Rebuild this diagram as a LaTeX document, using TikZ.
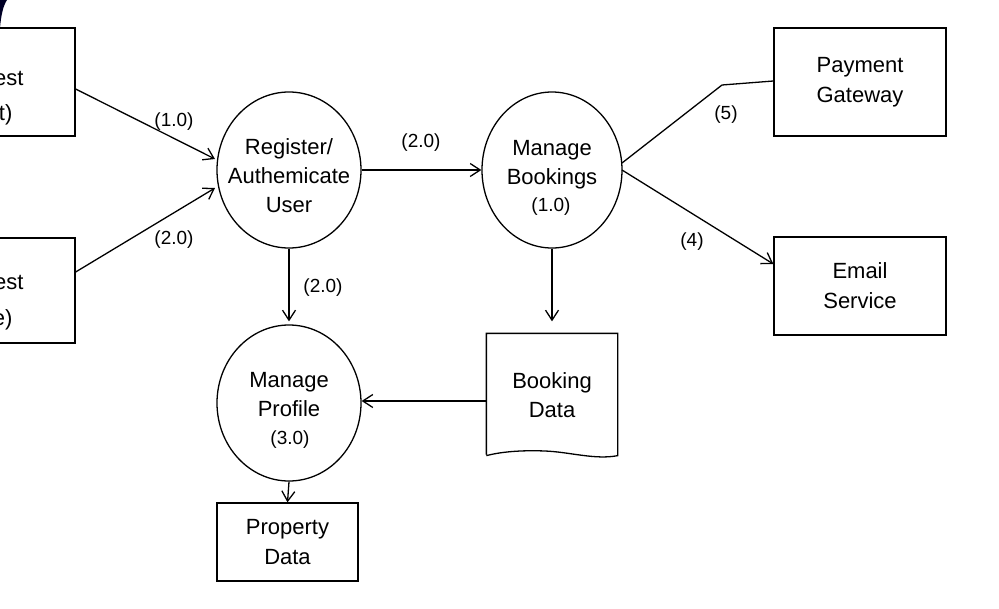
\documentclass[tikz,border=0pt]{standalone}
\usepackage{fontspec}
\setmainfont{Liberation Sans}
\usetikzlibrary{arrows.meta,shapes.geometric}
\begin{document}
\begin{tikzpicture}[x=1pt,y=-1pt,
  line width=1.3pt,
  lbl/.style={font=\fontsize{22}{29}\selectfont, align=center, inner sep=0pt},
  small/.style={font=\fontsize{19}{24}\selectfont, inner sep=0pt},
  proc/.style={draw, ellipse, inner sep=0pt, font=\fontsize{22}{29}\selectfont, align=center},
  ent/.style={draw, rectangle, inner sep=0pt, font=\fontsize{22}{30}\selectfont, align=center},
  flow/.style={-{Straight Barb[length=10pt,width=13pt,line width=1.3pt]}},
]
\useasboundingbox (0,0) rectangle (999,608);
\fill[white] (0,0) rectangle (999,608);
% dark corner artefact
\fill[black!85!blue] (0,0) -- (7,0) .. controls (3,6) and (1,16) .. (0,28) -- cycle;

% external entities (partly off the page)
\node[ent, minimum width=185pt, minimum height=108pt] (g1) at (-17.5,82) {};
\node[lbl, font=\fontsize{22}{35}\selectfont] (g1t) at (-17.5,98) {Request\\(Host)};
\node[ent, minimum width=185pt, minimum height=105pt] (g2) at (-17.5,290.5) {};
\node[lbl, font=\fontsize{22}{36}\selectfont] (g2t) at (-17.5,302) {Request\\(Role)};

% processes
\node[proc, minimum width=144pt, minimum height=156pt] (reg) at (289,170) {};
\node[lbl] (regt) at (289,176) {Register/\\Authemicate\\User};
\node[proc, minimum width=140pt, minimum height=156pt] (bk) at (552,170) {};
\node[lbl] (bkt) at (552,165) {Manage\\Bookings};
\node[small] (bkn) at (551,207) {(1.0)};
\node[proc, minimum width=144pt, minimum height=156pt] (pr) at (289,403) {};
\node[lbl] (prt) at (289,395) {Manage\\Profile};
\node[small] (prn) at (290,440) {(3.0)};

% stores / entities
\node[ent, minimum width=141pt, minimum height=78pt] (pd) at (287.5,542) {Property\\Data};
\node[ent, minimum width=172pt, minimum height=108pt] (pg) at (860,82) {Payment\\Gateway};
\node[ent, minimum width=172pt, minimum height=98pt] (es) at (860,286) {Email\\Service};

% booking data (document shape)
\node[inner sep=0pt, minimum width=130pt, minimum height=120pt] (bd) at (552,394) {};
\draw (bd.south west) -- (bd.north west) -- (bd.north east) -- ([yshift=-1pt]bd.south east)
  .. controls (595,460) and (570,452) .. (545,451)
  .. controls (520,450) and (500,452) .. ([yshift=-1pt]bd.south west);
\node[lbl] (bdt) at (552,395) {Booking\\Data};

% flows
\draw[flow] (g1.east |- 0,89) -- (215,159) coordinate (a1);
\node[small] (l1) at (174,122) {(1.0)};
\draw[flow] (g2.east |- 0,272) -- (215,188) coordinate (a2);
\node[small] (l2) at (174,240) {(2.0)};

\draw[flow] (reg.east |- 0,170) -- (bk.west |- 0,170);
\node[small] (l3) at (421,143) {(2.0)};

\draw[flow, shorten >=3pt] (reg.south) -- (pr.north);
\node[small] (l4) at (323,288) {(2.0)};

\draw[flow, shorten >=12pt] (bk.south) -- (bk.south |- bd.north);

\draw[flow] (bd.west |- 0,401) -- (pr.east |- 0,401);

\draw[flow] (pr.south) -- (pd.north);

\draw (622,163) -- (722,85) -- (pg.west |- 0,81);
\node[small] (l5) at (726,115) {(5)};

\draw[flow] (622,170) -- (es.west |- 0,264);
\node[small] (l6) at (692,242) {(4)};
\end{tikzpicture}
\end{document}
